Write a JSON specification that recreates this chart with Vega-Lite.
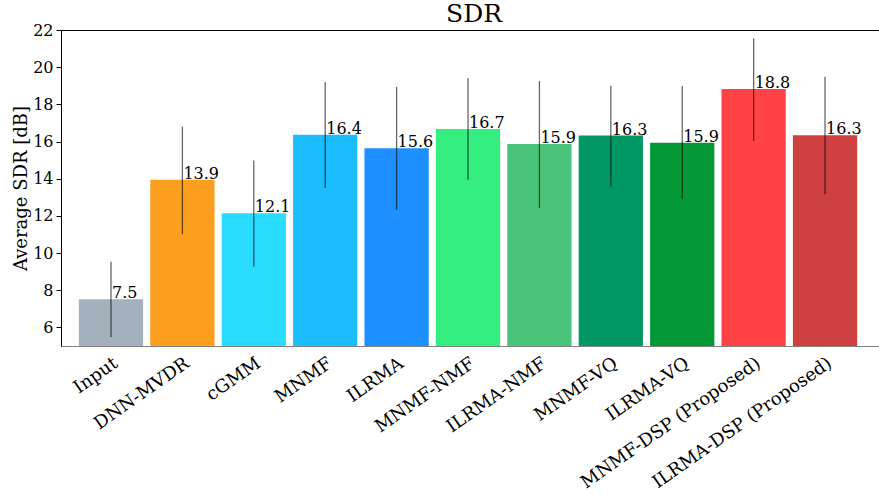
{
  "$schema": "https://vega.github.io/schema/vega-lite/v6.json",
  "width": 818,
  "height": 316,
  "autosize": {"type": "none"},
  "padding": {"left": 61, "top": 30, "right": 0, "bottom": 149},
  "background": "white",
  "config": {
    "view": {"stroke": "black", "strokeWidth": 1},
    "font": "DejaVu Serif",
    "axisY": {
      "titleFontSize": 18, "titleFontWeight": "normal", "titleColor": "black",
      "titleFont": "DejaVu Serif", "titlePadding": 2,
      "labelOverlap": false, "labelFlush": false,
      "labelFontSize": 16, "labelColor": "black", "labelFont": "DejaVu Serif",
      "tickColor": "black", "tickSize": 5, "domainColor": "black", "grid": false, "labelPadding": 3
    }
  },
  "title": {"text": "SDR", "fontSize": 25, "font": "DejaVu Serif", "fontWeight": "normal", "color": "black", "offset": -4, "baseline": "bottom", "dy": 26, "dx": 4},
  "data": {
    "values": [
      {"name": "Input", "value": 7.52, "lo": 5.48, "hi": 9.53},
      {"name": "DNN-MVDR", "value": 13.94, "lo": 11.02, "hi": 16.8},
      {"name": "cGMM", "value": 12.14, "lo": 9.28, "hi": 14.98},
      {"name": "MNMF", "value": 16.36, "lo": 13.5, "hi": 19.2},
      {"name": "ILRMA", "value": 15.64, "lo": 12.33, "hi": 18.94},
      {"name": "MNMF-NMF", "value": 16.68, "lo": 13.94, "hi": 19.42},
      {"name": "ILRMA-NMF", "value": 15.87, "lo": 12.43, "hi": 19.26},
      {"name": "MNMF-VQ", "value": 16.32, "lo": 13.58, "hi": 19.0},
      {"name": "ILRMA-VQ", "value": 15.94, "lo": 12.9, "hi": 18.99},
      {"name": "MNMF-DSP (Proposed)", "value": 18.83, "lo": 16.03, "hi": 21.55},
      {"name": "ILRMA-DSP (Proposed)", "value": 16.34, "lo": 13.17, "hi": 19.49}
    ]
  },
  "encoding": {
    "x": {
      "field": "name", "type": "nominal", "sort": null,
      "scale": {"paddingInner": 0.1, "paddingOuter": 0.278, "align": 0.45},
      "axis": {
        "title": null, "labelAngle": -35, "labelAlign": "right", "labelBaseline": "top",
        "labelFontSize": 18, "labelColor": "black", "labelPadding": 8, "labelOverlap": false, "labelLimit": 400,
        "ticks": false, "domainColor": "#808080", "domainWidth": 1.2, "labelFont": "DejaVu Serif"
      }
    }
  },
  "layer": [
    {
      "mark": {"type": "bar"},
      "encoding": {
        "y": {
          "field": "value", "type": "quantitative",
          "scale": {"domain": [5, 22], "nice": false, "zero": false},
          "axis": {"title": "Average SDR [dB]", "values": [6, 8, 10, 12, 14, 16, 18, 20, 22], "labelOverlap": false}
        },
        "y2": {"datum": 5},
        "color": {
          "field": "name", "type": "nominal", "legend": null,
          "scale": {
            "domain": ["Input", "DNN-MVDR", "cGMM", "MNMF", "ILRMA", "MNMF-NMF", "ILRMA-NMF", "MNMF-VQ", "ILRMA-VQ", "MNMF-DSP (Proposed)", "ILRMA-DSP (Proposed)"],
            "range": ["#a5b0bd", "#fd9f1e", "#2adcff", "#1bbdfd", "#1e8ffe", "#34ee80", "#4bc47b", "#019865", "#049936", "#fe4245", "#cf4141"]
          }
        }
      }
    },
    {
      "mark": {"type": "rule", "color": "black", "opacity": 0.6, "strokeWidth": 1.3},
      "encoding": {
        "y": {"field": "lo", "type": "quantitative", "axis": {"title": "Average SDR [dB]", "values": [6, 8, 10, 12, 14, 16, 18, 20, 22], "labelOverlap": false}},
        "y2": {"field": "hi"}
      }
    },
    {
      "mark": {"type": "text", "align": "left", "baseline": "alphabetic", "dx": 1, "dy": -1, "fontSize": 16, "font": "DejaVu Serif", "color": "black"},
      "encoding": {
        "y": {"field": "value", "type": "quantitative", "axis": {"title": "Average SDR [dB]", "values": [6, 8, 10, 12, 14, 16, 18, 20, 22], "labelOverlap": false}},
        "text": {"field": "value", "type": "quantitative", "format": ".1f"}
      }
    }
  ]
}
